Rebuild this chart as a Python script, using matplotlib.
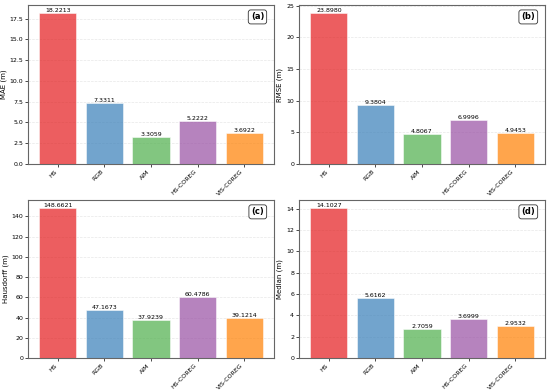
import matplotlib.pyplot as plt
import numpy as np

methods = ["HS", "RGB", "AIM", "HS-COREG", "VIS-COREG"]
mae = [18.2213, 7.3311, 3.3059, 5.2222, 3.6922]
rmse = [23.8980, 9.3804, 4.8067, 6.9996, 4.9453]
hausdorff = [148.6621, 47.1673, 37.9239, 60.4786, 39.1214]
median = [14.1027, 5.6162, 2.7059, 3.6999, 2.9532]

colors = ["#e41a1c", "#377eb8", "#4daf4a", "#984ea3", "#ff7f00"]

panels = [
    (mae, "MAE (m)", "(a)"),
    (rmse, "RMSE (m)", "(b)"),
    (hausdorff, "Hausdorff (m)", "(c)"),
    (median, "Median (m)", "(d)"),
]

# axes boxes in pixels: left, top, right, bottom
W, H = 550, 392
boxes = [(28, 5, 274, 164), (299, 5, 545, 164),
         (28, 200, 274, 358), (299, 200, 545, 358)]

fig = plt.figure(figsize=(5.5, 3.92), dpi=100)

for (vals, ylab, tag), (l, t, r, b) in zip(panels, boxes):
    ax = fig.add_axes([l / W, 1 - b / H, (r - l) / W, (b - t) / H])
    x = np.arange(len(methods))
    bars = ax.bar(x, vals, width=0.8, color=colors, alpha=0.7,
                  edgecolor="white", linewidth=0.5, zorder=3)
    for bar, v in zip(bars, vals):
        ax.text(bar.get_x() + bar.get_width() / 2, bar.get_height(),
                f"{v:.4f}", ha="center", va="bottom", fontsize=4.5, zorder=4)
    ax.set_xticks(x)
    ax.set_xticklabels(methods, rotation=45, ha="right", fontsize=4.5)
    ax.tick_params(axis="y", labelsize=4.5, length=2, width=0.5, pad=1.5)
    ax.tick_params(axis="x", length=2, width=0.5, pad=1.5)
    ax.set_ylabel(ylab, fontsize=5, labelpad=2)
    ax.grid(axis="y", linestyle="--", alpha=0.3, linewidth=0.5, zorder=0)
    for s in ax.spines.values():
        s.set_color("#666666")
        s.set_linewidth(0.8)
    ax.text(0.96, 0.925, tag, transform=ax.transAxes, ha="right", va="center",
            fontsize=6, fontweight="bold",
            bbox=dict(boxstyle="round,pad=0.3", facecolor="white",
                      edgecolor="#333333", linewidth=0.6))

plt.savefig("out.png", dpi=100)
